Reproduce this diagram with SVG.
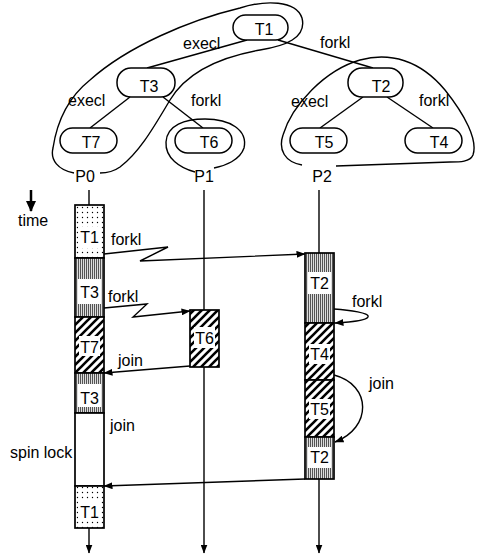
<svg xmlns="http://www.w3.org/2000/svg" width="477" height="558" viewBox="0 0 477 558">
<style>
text{font-family:"Liberation Sans",Arial,sans-serif;font-size:16px;fill:#000}
.c{text-anchor:middle}
.ln{fill:none;stroke:#000;stroke-width:1.4}
.pill{fill:#fff;stroke:#000;stroke-width:1.5}
.blk{stroke:#000;stroke-width:1.7}
.wp{fill:#fff;stroke:none}
</style>
<defs>
<pattern id="dots" width="5" height="5" patternUnits="userSpaceOnUse"><rect width="5" height="5" fill="#fff"/><circle cx="2.5" cy="2.5" r="0.7" fill="#000"/></pattern>
<pattern id="stip" width="2" height="2" patternUnits="userSpaceOnUse"><rect width="2" height="2" fill="#ddd"/><rect width="1" height="2" fill="#555"/></pattern>
<pattern id="hatch" width="8" height="8" patternUnits="userSpaceOnUse"><rect width="8" height="8" fill="#fff"/><path d="M-2,2 L2,-2 M0,8 L8,0 M6,10 L10,6" stroke="#000" stroke-width="2.6"/></pattern>
<marker id="ah" markerWidth="9" markerHeight="7" refX="8.5" refY="3.5" orient="auto" markerUnits="userSpaceOnUse"><path d="M0,0 L9,3.5 L0,7 Z" fill="#000"/></marker>
<marker id="big" markerWidth="11" markerHeight="10" refX="10" refY="5" orient="auto" markerUnits="userSpaceOnUse"><path d="M0,0 L11,5 L0,10 Z" fill="#000"/></marker>
</defs>
<rect width="477" height="558" fill="#fff"/>

<g id="tree-edges">
<line class="ln" x1="247" y1="40" x2="147" y2="68"/>
<line class="ln" x1="278" y1="40" x2="373" y2="68"/>
<line class="ln" x1="130" y1="97" x2="90" y2="128"/>
<line class="ln" x1="163" y1="97" x2="203" y2="128"/>
<line class="ln" x1="363" y1="97" x2="320" y2="128"/>
<line class="ln" x1="387" y1="97" x2="433" y2="128"/>
</g>

<g id="loops">
<path class="ln" d="M74,173 C58,170 50,160 53,148 C56,128 65,100 90,80 C128,46 190,20 240,8 C265,0 296,0 302,18 C307,38 285,46 260,50 C215,58 185,75 170,100 C155,125 140,152 120,167 C113,172 107,173 100,173"/>
<path class="ln" d="M195,172 C180,168 165,158 166,142 C167,125 185,119 205,119 C230,119 248,130 244,148 C240,160 225,166 214,168"/>
<path class="ln" d="M302,165 C285,162 278,150 283,135 C292,105 325,70 360,60 C390,52 420,60 445,90 C465,115 478,140 473,155 C470,162 460,162 450,162 L336,166"/>
</g>

<g id="tree-labels">
<text x="183" y="49">execl</text>
<text x="320" y="48">forkl</text>
<text x="68" y="106">execl</text>
<text x="191" y="106">forkl</text>
<text x="291" y="107">execl</text>
<text x="419" y="106">forkl</text>
</g>

<g id="T1"><rect class="pill" x="233" y="15" width="55" height="25" rx="12.5"/><text class="c" x="264" y="35">T1</text></g>
<g id="T3"><rect class="pill" x="117" y="68" width="58" height="29" rx="14"/><text class="c" x="149" y="92">T3</text></g>
<g id="T2"><rect class="pill" x="348" y="68" width="55" height="29" rx="14"/><text class="c" x="381" y="92">T2</text></g>
<g id="T7"><rect class="pill" x="60" y="128" width="57" height="25" rx="12.5"/><text class="c" x="91" y="148">T7</text></g>
<g id="T6"><rect class="pill" x="175" y="128" width="57" height="25" rx="12.5"/><text class="c" x="209" y="148">T6</text></g>
<g id="T5"><rect class="pill" x="290" y="128" width="57" height="25" rx="12.5"/><text class="c" x="324" y="148">T5</text></g>
<g id="T4"><rect class="pill" x="405" y="128" width="57" height="25" rx="12.5"/><text class="c" x="439" y="148">T4</text></g>

<g id="process-labels">
<text class="c" x="85" y="182">P0</text>
<text class="c" x="204" y="182">P1</text>
<text class="c" x="322" y="182">P2</text>
</g>

<g id="time">
<line x1="31" y1="190" x2="31" y2="211" stroke="#000" stroke-width="2.5" marker-end="url(#big)"/>
<text x="18" y="226">time</text>
</g>

<g id="connectors">
<line class="ln" x1="89" y1="190" x2="89" y2="205"/>
<line class="ln" x1="89" y1="528" x2="89" y2="553" marker-end="url(#ah)"/>
<line class="ln" x1="204" y1="190" x2="204" y2="553" marker-end="url(#ah)"/>
<line class="ln" x1="319" y1="190" x2="319" y2="253"/>
<line class="ln" x1="319" y1="479" x2="319" y2="553" marker-end="url(#ah)"/>
<path class="ln" d="M104,254 L168,247 L140,261 L305,254" marker-end="url(#ah)"/>
<path class="ln" d="M104,308 L147,304 L133,317 L190,311" marker-end="url(#ah)"/>
<path class="ln" d="M190,366 L104,373" marker-end="url(#ah)"/>
<path class="ln" d="M334,309 C350,310 370,313 368,317 C366,321 350,322 335,323" marker-end="url(#ah)"/>
<path class="ln" d="M334,375 C372,385 372,428 335,442" marker-end="url(#ah)"/>
<path class="ln" d="M305,479 L104,486" marker-end="url(#ah)"/>
</g>

<g id="conn-labels">
<text x="111" y="245">forkl</text>
<text x="108" y="302">forkl</text>
<text x="118" y="366">join</text>
<text x="352" y="307">forkl</text>
<text x="369" y="389">join</text>
<text x="110" y="431">join</text>
<text x="10" y="458">spin lock</text>
</g>

<g id="P0-T1a"><rect class="blk" x="75" y="205" width="29" height="53" fill="url(#dots)"/><rect class="wp" x="78" y="227" width="23" height="21"/><text class="c" x="89.5" y="243">T1</text></g>
<g id="P0-T3a"><rect class="blk" x="75" y="258" width="29" height="59" fill="url(#stip)"/><rect class="wp" x="78" y="279" width="23" height="25"/><text class="c" x="89.5" y="298">T3</text></g>
<g id="P0-T7"><rect class="blk" x="75" y="317" width="29" height="56" fill="url(#hatch)"/><rect class="wp" x="79" y="336" width="21" height="20"/><text class="c" x="89.5" y="353">T7</text></g>
<g id="P0-T3b"><rect class="blk" x="75" y="373" width="29" height="40" fill="url(#stip)"/><rect class="wp" x="78" y="384" width="23" height="23"/><text class="c" x="89.5" y="404">T3</text></g>
<g id="P0-spin"><rect class="blk" x="75" y="413" width="29" height="73" fill="#fff"/></g>
<g id="P0-T1b"><rect class="blk" x="75" y="486" width="29" height="42" fill="url(#dots)"/><rect class="wp" x="78" y="499" width="23" height="22"/><text class="c" x="89.5" y="518">T1</text></g>

<g id="P1-T6"><rect class="blk" x="190" y="310" width="29" height="57" fill="url(#hatch)"/><rect class="wp" x="194" y="327" width="21" height="21"/><text class="c" x="204.5" y="344">T6</text></g>

<g id="P2-T2a"><rect class="blk" x="305" y="253" width="29" height="70" fill="url(#stip)"/><rect class="wp" x="308" y="272" width="23" height="22"/><text class="c" x="319.5" y="289">T2</text></g>
<g id="P2-T4"><rect class="blk" x="305" y="323" width="29" height="57" fill="url(#hatch)"/><rect class="wp" x="309" y="344" width="21" height="20"/><text class="c" x="319.5" y="360">T4</text></g>
<g id="P2-T5"><rect class="blk" x="305" y="380" width="29" height="57" fill="url(#hatch)"/><rect class="wp" x="309" y="399" width="21" height="20"/><text class="c" x="319.5" y="415">T5</text></g>
<g id="P2-T2b"><rect class="blk" x="305" y="437" width="29" height="42" fill="url(#stip)"/><rect class="wp" x="308" y="447" width="23" height="21"/><text class="c" x="319.5" y="463">T2</text></g>
</svg>
